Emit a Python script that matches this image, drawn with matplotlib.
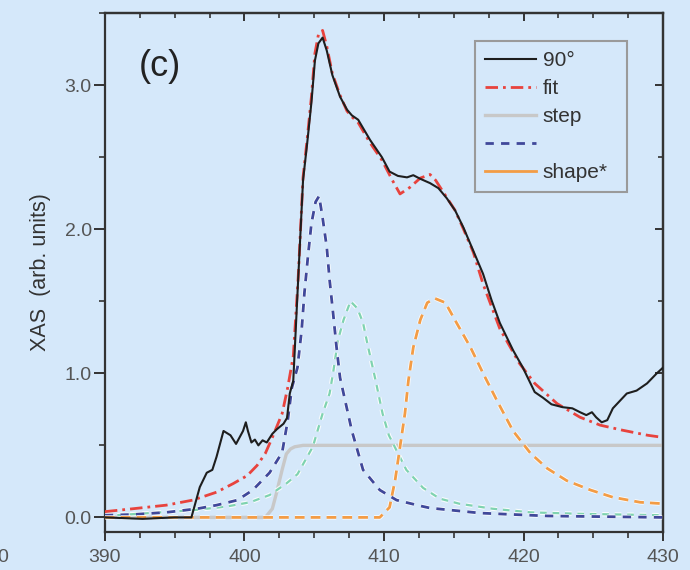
import matplotlib
matplotlib.use("Agg")
import matplotlib.pyplot as plt
from matplotlib.ticker import MultipleLocator
from matplotlib.lines import Line2D
import matplotlib.patheffects as pe

plt.rcParams['font.family'] = ['Liberation Sans', 'DejaVu Sans']

BG = '#d5e8fa'

# measured spectrum (90 deg)
e_meas = [390, 392.7, 395.0, 396.2, 396.8, 397.3, 397.7, 398.0, 398.5, 399.0, 399.4,
          399.9, 400.1, 400.25, 400.5, 400.75, 401.0, 401.3, 401.6, 402.0, 402.3,
          402.8, 403.05, 403.25, 403.5, 403.85, 404.2, 404.5, 404.8, 405.05, 405.3,
          405.6, 405.9, 406.3, 406.85, 407.35, 407.7, 408.15, 409.0, 409.85, 410.4,
          411.0, 411.65, 412.1, 412.6, 413.3, 413.9, 414.5, 415.1, 415.7, 416.4,
          417.1, 417.7, 418.3, 419.25, 419.95, 420.8, 421.4, 422.0, 422.8, 423.5,
          424.05, 424.5, 424.9, 425.2, 425.6, 426.0, 426.4, 427.4, 428.1, 428.85,
          429.55, 430.0]
xas_meas = [0.0, -0.01, 0.0, 0.0, 0.21, 0.31, 0.33, 0.42, 0.60, 0.57, 0.51,
            0.60, 0.66, 0.60, 0.52, 0.54, 0.50, 0.535, 0.52, 0.58, 0.61,
            0.65, 0.69, 0.86, 0.95, 1.65, 2.34, 2.60, 2.88, 3.17, 3.29,
            3.33, 3.24, 3.07, 2.92, 2.83, 2.79, 2.76, 2.62, 2.50, 2.40,
            2.37, 2.36, 2.375, 2.35, 2.32, 2.285, 2.215, 2.13, 2.01, 1.85,
            1.69, 1.51, 1.35, 1.16, 1.04, 0.87, 0.83, 0.785, 0.765, 0.757,
            0.73, 0.71, 0.73, 0.695, 0.66, 0.675, 0.757, 0.86, 0.88, 0.93,
            1.0, 1.04]

# total fit
e_fit = [390, 392, 394.4, 396.3, 398.0, 399.2, 400.2, 400.9, 401.5, 402.0, 402.7,
         403.1, 403.5, 403.85, 404.2, 404.5, 404.8, 405.05, 405.3, 405.6, 405.9,
         406.3, 406.85, 407.35, 407.7, 408.15, 409.0, 409.85, 410.6, 411.15, 411.85,
         412.6, 413.3, 413.7, 414.5, 415.1, 415.7, 416.4, 417.1, 418.3, 419.7,
         420.8, 422.4, 424.05, 425.5, 427.1, 428.9, 430]
xas_fit = [0.04, 0.06, 0.085, 0.12, 0.175, 0.235, 0.29, 0.36, 0.445, 0.555, 0.72,
           0.90, 1.12, 1.66, 2.36, 2.63, 2.92, 3.22, 3.35, 3.38, 3.27,
           3.08, 2.93, 2.82, 2.78, 2.74, 2.60, 2.48, 2.34, 2.245, 2.29,
           2.355, 2.38, 2.34, 2.22, 2.13, 2.0, 1.84, 1.62, 1.31, 1.07,
           0.93, 0.79, 0.695, 0.64, 0.605, 0.57, 0.555]

# edge step
e_step = [390, 401.5, 402.0, 402.3, 402.7, 403.0, 403.3, 403.6, 404.2, 430]
xas_step = [0, 0, 0.06, 0.17, 0.33, 0.44, 0.475, 0.49, 0.5, 0.5]

# first resonance
e_peak1 = [390, 392, 394.4, 396.6, 398.0, 399.5, 400.6, 401.8, 402.7, 403.1, 403.4,
           403.8, 404.1, 404.3, 404.55, 404.8, 405.1, 405.35, 405.6, 405.9, 406.1,
           406.35, 406.6, 406.85, 407.7, 408.5, 409.7, 410.9, 412.6, 413.3, 416.9,
           421.7, 430]
xas_peak1 = [0.015, 0.02, 0.035, 0.06, 0.085, 0.12, 0.19, 0.31, 0.45, 0.67, 0.90,
             1.04, 1.30, 1.56, 1.81, 2.04, 2.19, 2.23, 2.08, 1.875, 1.65,
             1.42, 1.18, 0.97, 0.60, 0.33, 0.19, 0.12, 0.08, 0.065, 0.03,
             0.01, 0.0]

# second resonance
e_peak2 = [390, 393.2, 396.3, 398.7, 400.4, 401.8, 403.0, 403.8, 404.9, 405.6, 406.1,
           406.35, 406.7, 407.1, 407.6, 408.1, 408.5, 408.8, 409.1, 409.4, 409.9,
           410.35, 411.6, 412.8, 414.0, 415.4, 417.8, 420.5, 424.0, 430]
xas_peak2 = [0.01, 0.03, 0.05, 0.075, 0.105, 0.155, 0.235, 0.30, 0.49, 0.72, 0.86,
             1.0, 1.23, 1.37, 1.50, 1.45, 1.35, 1.21, 1.08, 0.95, 0.72,
             0.57, 0.33, 0.205, 0.13, 0.095, 0.06, 0.035, 0.025, 0.015]

# shape resonance
e_shape = [390, 409.7, 410.4, 410.8, 411.15, 411.5, 411.75, 412.1, 412.6, 413.1,
           413.65, 414.4, 415.2, 416.2, 417.1, 418.1, 419.25, 420.5, 421.7, 423.1,
           424.8, 426.4, 428.35, 430]
xas_shape = [0, 0, 0.07, 0.26, 0.49, 0.72, 0.95, 1.18, 1.37, 1.49,
             1.52, 1.49, 1.35, 1.18, 1.0, 0.81, 0.60, 0.445, 0.34, 0.255,
             0.19, 0.14, 0.105, 0.095]

C_MEAS = '#1e1e1e'
C_FIT = '#e8433d'
C_STEP = '#c8c8c8'
C_PEAK1 = '#40489a'
C_PEAK2 = '#7fd3b0'
C_SHAPE = '#f39c45'
C_AXIS = '#333333'


def halo(w):
    return [pe.Stroke(linewidth=w, foreground='white', alpha=0.85), pe.Normal()]


fig = plt.figure(figsize=(6.9, 5.7), dpi=100, facecolor=BG)
ax = fig.add_axes([0.152, 0.067, 0.809, 0.910], facecolor=BG)

ax.plot(e_step, xas_step, color=C_STEP, lw=2.4, zorder=1)
ax.plot(e_peak2, xas_peak2, color=C_PEAK2, lw=1.6, dashes=(3.0, 2.6),
        path_effects=halo(3.2), zorder=2)
ax.plot(e_peak1, xas_peak1, color=C_PEAK1, lw=2.0, dashes=(3.0, 2.6),
        path_effects=halo(3.2), zorder=3)
ax.plot(e_shape, xas_shape, color=C_SHAPE, lw=2.0, dashes=(3.5, 2.2),
        path_effects=halo(3.2), zorder=4)
ax.plot(e_fit, xas_fit, color=C_FIT, lw=2.0, dashes=(4.5, 1.8, 1.0, 1.8), zorder=5)
ax.plot(e_meas, xas_meas, color=C_MEAS, lw=1.5, zorder=6)

ax.set_xlim(390, 430)
ax.set_ylim(-0.1, 3.5)

ax.xaxis.set_major_locator(MultipleLocator(10))
ax.xaxis.set_minor_locator(MultipleLocator(2.5))
ax.yaxis.set_major_locator(MultipleLocator(1))
ax.yaxis.set_minor_locator(MultipleLocator(0.5))
ax.yaxis.set_major_formatter(plt.FormatStrFormatter('%.1f'))

for s in ax.spines.values():
    s.set_linewidth(1.6)
    s.set_color(C_AXIS)

ax.tick_params(which='major', direction='out', length=7, width=1.4,
               labelsize=14, labelcolor='#555555', color=C_AXIS)
ax.tick_params(which='minor', direction='out', length=4, width=1.2, color=C_AXIS)
ax.tick_params(axis='x', which='major', length=6.5, pad=6)
ax.tick_params(axis='y', which='major', length=8, pad=1.5)

# mirrored ticks pointing inward on top and right
top = ax.secondary_xaxis('top')
top.xaxis.set_major_locator(MultipleLocator(10))
top.xaxis.set_minor_locator(MultipleLocator(2.5))
top.tick_params(which='major', direction='in', length=6, width=1.4, labeltop=False, color=C_AXIS)
top.tick_params(which='minor', direction='in', length=3.5, width=1.2, color=C_AXIS)
top.spines['top'].set_linewidth(1.6)
top.spines['top'].set_color(C_AXIS)

right = ax.secondary_yaxis('right')
right.yaxis.set_major_locator(MultipleLocator(1))
right.yaxis.set_minor_locator(MultipleLocator(0.5))
right.tick_params(which='major', direction='in', length=6, width=1.4, labelright=False, color=C_AXIS)
right.tick_params(which='minor', direction='in', length=3.5, width=1.2, color=C_AXIS)
right.spines['right'].set_linewidth(1.6)
right.spines['right'].set_color(C_AXIS)

ax.set_ylabel('XAS  (arb. units)', fontsize=15.5, color=C_AXIS, labelpad=10)
ax.text(0.099, 0.897, '(c)', transform=ax.transAxes, fontsize=26,
        color='#222222', ha='center', va='center')

handles = [
    Line2D([], [], color=C_MEAS, lw=1.5),
    Line2D([], [], color=C_FIT, lw=2.0, dashes=(4.5, 1.8, 1.0, 1.8)),
    Line2D([], [], color=C_STEP, lw=2.4),
    Line2D([], [], color=C_PEAK1, lw=2.0, dashes=(3.0, 2.6)),
    Line2D([], [], color=C_SHAPE, lw=2.0),
]
labels = ['90°', 'fit', 'step', ' ', 'shape*']
leg = ax.legend(handles, labels, loc='upper left',
                bbox_to_anchor=(0.663, 0.947, 0.272, 0.0), mode='expand',
                borderaxespad=0, fontsize=15, handlelength=2.45, handletextpad=0.3,
                labelspacing=0.43, borderpad=0.5, frameon=True, fancybox=False,
                facecolor=BG, edgecolor='#9a9a9a', labelcolor=C_AXIS)
leg.get_frame().set_linewidth(1.5)
leg.get_frame().set_alpha(1)

# clipped tick label from the neighbouring panel
fig.text(0.004, 0.022, '0', fontsize=14, color='#555555', ha='center', va='center')

fig.savefig('out.png', dpi=100, facecolor=BG)
